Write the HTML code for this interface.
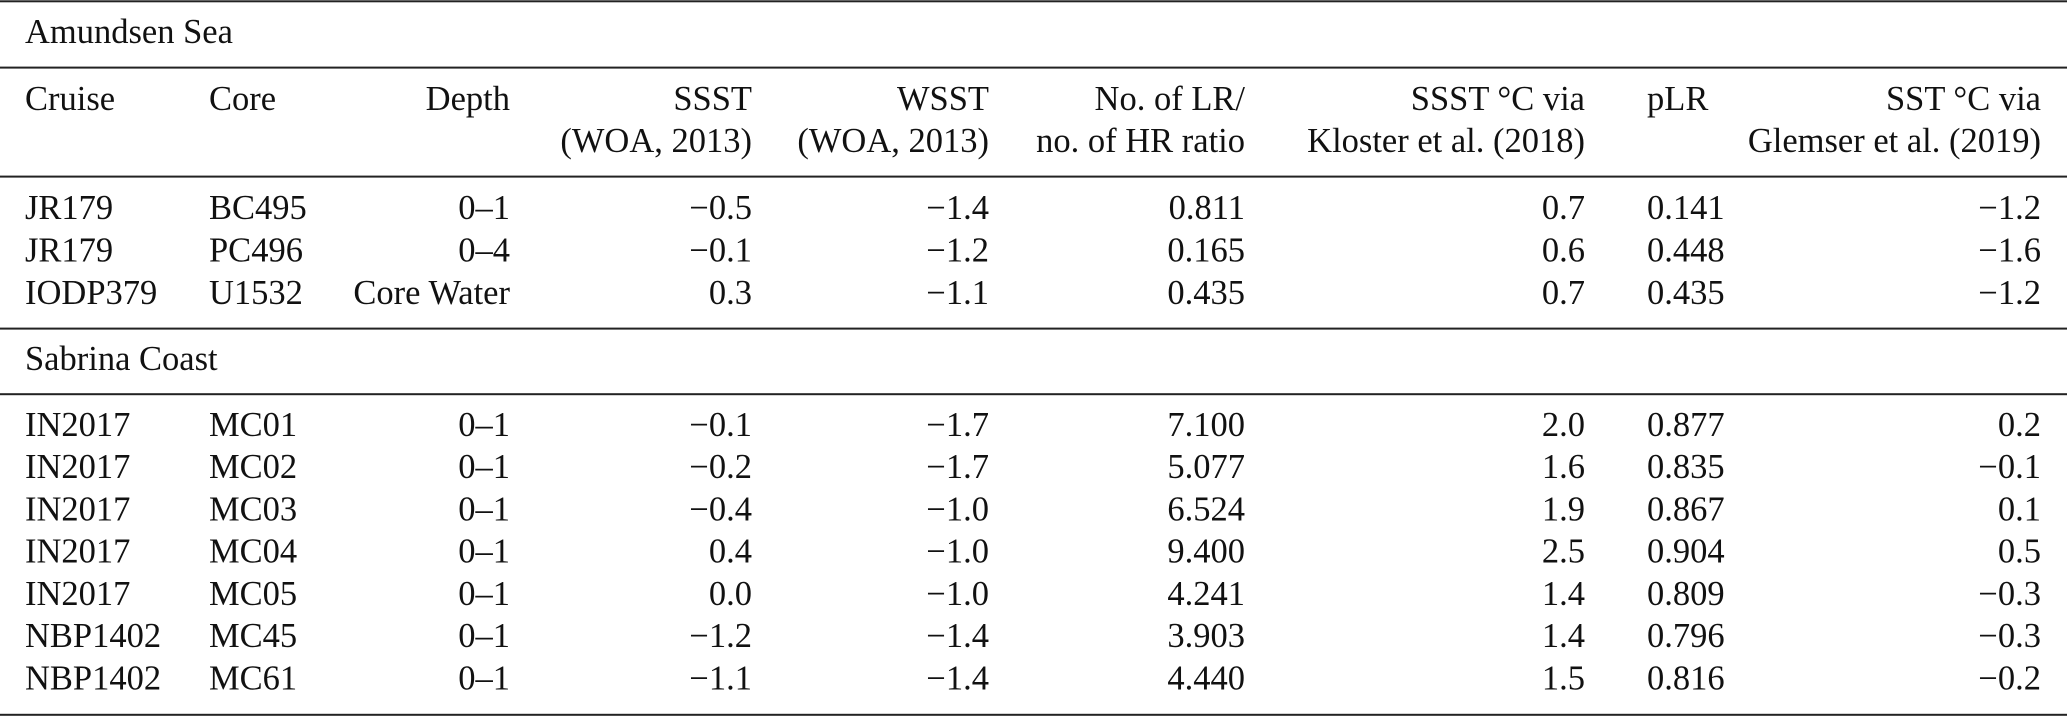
<!DOCTYPE html>
<html>
<head>
<meta charset="utf-8">
<style>
  html,body{margin:0;padding:0;background:#fff;}
  body{width:2067px;height:717px;overflow:hidden;}
  svg{display:block;}
  text{font-family:"Liberation Serif","Times New Roman",serif;font-size:34.5px;fill:#111;}
  .e{text-anchor:end;}
</style>
</head>
<body>
<svg width="2067" height="717" viewBox="0 0 2067 717" xmlns="http://www.w3.org/2000/svg">
  <!-- rules -->
  <rect x="0" y="0.3" width="2067" height="2" fill="#222"/>
  <rect x="0" y="66.6" width="2067" height="2" fill="#222"/>
  <rect x="0" y="175.6" width="2067" height="2" fill="#222"/>
  <rect x="0" y="327.6" width="2067" height="2" fill="#222"/>
  <rect x="0" y="393.2" width="2067" height="2" fill="#222"/>
  <rect x="0" y="713.8" width="2067" height="2" fill="#222"/>

  <!-- Amundsen Sea section -->
  <text x="25" y="43">Amundsen Sea</text>

  <!-- header -->
  <text x="25" y="110">Cruise</text>
  <text x="209" y="110">Core</text>
  <text class="e" x="510" y="110">Depth</text>
  <text class="e" x="752" y="110">SSST</text>
  <text class="e" x="752" y="152">(WOA, 2013)</text>
  <text class="e" x="989" y="110">WSST</text>
  <text class="e" x="989" y="152">(WOA, 2013)</text>
  <text class="e" x="1245" y="110">No. of LR/</text>
  <text class="e" x="1245" y="152">no. of HR ratio</text>
  <text class="e" x="1585" y="110">SSST °C via</text>
  <text class="e" x="1585" y="152">Kloster et al. (2018)</text>
  <text x="1647" y="110">pLR</text>
  <text class="e" x="2041" y="110">SST °C via</text>
  <text class="e" x="2041" y="152">Glemser et al. (2019)</text>

  <!-- Amundsen rows -->
  <g>
    <text x="25" y="219">JR179</text>
    <text x="209" y="219">BC495</text>
    <text class="e" x="510" y="219">0–1</text>
    <text class="e" x="752" y="219">−0.5</text>
    <text class="e" x="989" y="219">−1.4</text>
    <text class="e" x="1245" y="219">0.811</text>
    <text class="e" x="1585" y="219">0.7</text>
    <text x="1647" y="219">0.141</text>
    <text class="e" x="2041" y="219">−1.2</text>
  </g>
  <g>
    <text x="25" y="261.5">JR179</text>
    <text x="209" y="261.5">PC496</text>
    <text class="e" x="510" y="261.5">0–4</text>
    <text class="e" x="752" y="261.5">−0.1</text>
    <text class="e" x="989" y="261.5">−1.2</text>
    <text class="e" x="1245" y="261.5">0.165</text>
    <text class="e" x="1585" y="261.5">0.6</text>
    <text x="1647" y="261.5">0.448</text>
    <text class="e" x="2041" y="261.5">−1.6</text>
  </g>
  <g>
    <text x="25" y="304">IODP379</text>
    <text x="209" y="304">U1532</text>
    <text class="e" x="510" y="304">Core Water</text>
    <text class="e" x="752" y="304">0.3</text>
    <text class="e" x="989" y="304">−1.1</text>
    <text class="e" x="1245" y="304">0.435</text>
    <text class="e" x="1585" y="304">0.7</text>
    <text x="1647" y="304">0.435</text>
    <text class="e" x="2041" y="304">−1.2</text>
  </g>

  <!-- Sabrina Coast section -->
  <text x="25" y="370">Sabrina Coast</text>

  <g>
    <text x="25" y="436">IN2017</text>
    <text x="209" y="436">MC01</text>
    <text class="e" x="510" y="436">0–1</text>
    <text class="e" x="752" y="436">−0.1</text>
    <text class="e" x="989" y="436">−1.7</text>
    <text class="e" x="1245" y="436">7.100</text>
    <text class="e" x="1585" y="436">2.0</text>
    <text x="1647" y="436">0.877</text>
    <text class="e" x="2041" y="436">0.2</text>
  </g>
  <g>
    <text x="25" y="478">IN2017</text>
    <text x="209" y="478">MC02</text>
    <text class="e" x="510" y="478">0–1</text>
    <text class="e" x="752" y="478">−0.2</text>
    <text class="e" x="989" y="478">−1.7</text>
    <text class="e" x="1245" y="478">5.077</text>
    <text class="e" x="1585" y="478">1.6</text>
    <text x="1647" y="478">0.835</text>
    <text class="e" x="2041" y="478">−0.1</text>
  </g>
  <g>
    <text x="25" y="520.5">IN2017</text>
    <text x="209" y="520.5">MC03</text>
    <text class="e" x="510" y="520.5">0–1</text>
    <text class="e" x="752" y="520.5">−0.4</text>
    <text class="e" x="989" y="520.5">−1.0</text>
    <text class="e" x="1245" y="520.5">6.524</text>
    <text class="e" x="1585" y="520.5">1.9</text>
    <text x="1647" y="520.5">0.867</text>
    <text class="e" x="2041" y="520.5">0.1</text>
  </g>
  <g>
    <text x="25" y="562.5">IN2017</text>
    <text x="209" y="562.5">MC04</text>
    <text class="e" x="510" y="562.5">0–1</text>
    <text class="e" x="752" y="562.5">0.4</text>
    <text class="e" x="989" y="562.5">−1.0</text>
    <text class="e" x="1245" y="562.5">9.400</text>
    <text class="e" x="1585" y="562.5">2.5</text>
    <text x="1647" y="562.5">0.904</text>
    <text class="e" x="2041" y="562.5">0.5</text>
  </g>
  <g>
    <text x="25" y="605">IN2017</text>
    <text x="209" y="605">MC05</text>
    <text class="e" x="510" y="605">0–1</text>
    <text class="e" x="752" y="605">0.0</text>
    <text class="e" x="989" y="605">−1.0</text>
    <text class="e" x="1245" y="605">4.241</text>
    <text class="e" x="1585" y="605">1.4</text>
    <text x="1647" y="605">0.809</text>
    <text class="e" x="2041" y="605">−0.3</text>
  </g>
  <g>
    <text x="25" y="647">NBP1402</text>
    <text x="209" y="647">MC45</text>
    <text class="e" x="510" y="647">0–1</text>
    <text class="e" x="752" y="647">−1.2</text>
    <text class="e" x="989" y="647">−1.4</text>
    <text class="e" x="1245" y="647">3.903</text>
    <text class="e" x="1585" y="647">1.4</text>
    <text x="1647" y="647">0.796</text>
    <text class="e" x="2041" y="647">−0.3</text>
  </g>
  <g>
    <text x="25" y="689.5">NBP1402</text>
    <text x="209" y="689.5">MC61</text>
    <text class="e" x="510" y="689.5">0–1</text>
    <text class="e" x="752" y="689.5">−1.1</text>
    <text class="e" x="989" y="689.5">−1.4</text>
    <text class="e" x="1245" y="689.5">4.440</text>
    <text class="e" x="1585" y="689.5">1.5</text>
    <text x="1647" y="689.5">0.816</text>
    <text class="e" x="2041" y="689.5">−0.2</text>
  </g>
</svg>
</body>
</html>
